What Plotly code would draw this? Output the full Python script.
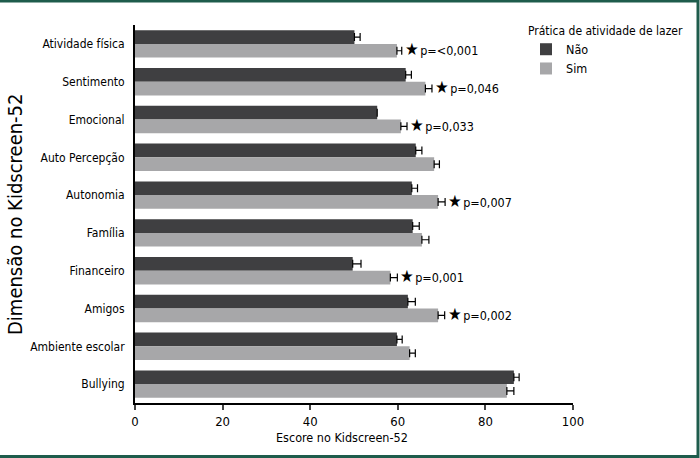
import plotly.graph_objects as go

categories = ["Atividade física", "Sentimento", "Emocional", "Auto Percepção", "Autonomia",
              "Família", "Financeiro", "Amigos", "Ambiente escolar", "Bullying"]
nao_values = [50.1, 61.8, 55.3, 64.1, 63.2, 63.4, 49.7, 62.3, 59.8, 86.5]
nao_errors = [1.3, 1.3, 0.0, 1.4, 1.3, 1.5, 1.9, 1.7, 1.2, 1.2]
sim_values = [59.8, 66.3, 60.7, 68.3, 69.2, 65.5, 58.3, 69.2, 62.7, 84.9]
sim_errors = [1.1, 1.5, 1.4, 1.2, 1.6, 1.6, 1.6, 1.5, 1.3, 1.6]
p_labels = ["p=&lt;0,001", "p=0,046", "p=0,033", None, "p=0,007",
            None, "p=0,001", "p=0,002", None, None]
x_ticks = [0, 20, 40, 60, 80, 100]

FONT = "DejaVu Sans Condensed, Liberation Sans Narrow, sans-serif"
DARK = "#3f3f41"
LIGHT = "#a7a7a9"
GREEN = "#1e5c4c"

ML, MR, MT, MB = 135, 127, 25, 55
PW, PH = 700 - ML - MR, 458 - MT - MB


def px_x(p):
    return (p - ML) / PW


def px_y(p):
    return 1 - (p - MT) / PH


fig = go.Figure()
fig.add_trace(go.Bar(
    name="Não", y=categories, x=nao_values, orientation="h",
    marker=dict(color=DARK, line=dict(width=0)),
    error_x=dict(type="data", array=nao_errors, arrayminus=[0] * len(nao_errors),
                 symmetric=False, color="black", thickness=1.2, width=4),
))
fig.add_trace(go.Bar(
    name="Sim", y=categories, x=sim_values, orientation="h",
    marker=dict(color=LIGHT, line=dict(width=0)),
    error_x=dict(type="data", array=sim_errors, arrayminus=[0] * len(sim_errors),
                 symmetric=False, color="black", thickness=1.2, width=4),
))

annotations = []
for cat, v, e, p in zip(categories, sim_values, sim_errors, p_labels):
    if p is None:
        continue
    annotations.append(dict(
        x=v + e, y=cat, xref="x", yref="y", xanchor="left", yanchor="middle",
        xshift=1, yshift=-5.5, showarrow=False,
        text="<span style='font-size:17px'>★</span><span style='font-size:5px'> </span>" + p,
        font=dict(family=FONT, size=12.5, color="black"),
    ))

annotations.append(dict(
    x=px_x(342), y=px_y(437), xref="paper", yref="paper",
    xanchor="center", yanchor="middle",
    showarrow=False, text="Escore no Kidscreen-52",
    font=dict(family=FONT, size=12.5, color="black"),
))
annotations.append(dict(
    x=px_x(15), y=0.5, xref="paper", yref="paper",
    xanchor="center", yanchor="middle", textangle=-90,
    showarrow=False, text="Dimensão no Kidscreen-52",
    font=dict(family=FONT, size=20, color="black"),
))

border = dict(type="path", xref="paper", yref="paper",
              path=f"M {px_x(-5)},{px_y(1)} L {px_x(698)},{px_y(1)} L {px_x(698)},{px_y(456.5)} L {px_x(-5)},{px_y(456.5)}",
              line=dict(color=GREEN, width=3), layer="above")

fig.update_layout(
    width=700, height=458,
    margin=dict(l=ML, r=MR, t=MT, b=MB, autoexpand=False),
    paper_bgcolor="white", plot_bgcolor="white",
    barmode="group", bargap=0.275, bargroupgap=0,
    font=dict(family=FONT, size=12, color="black"),
    showlegend=True,
    legend=dict(
        title=dict(text="Prática de atividade de lazer", font=dict(family=FONT, size=12)),
        xref="container", yref="container",
        x=526 / 700, y=1 - 19 / 458, xanchor="left", yanchor="top",
        font=dict(family=FONT, size=12.5), itemwidth=30, tracegroupgap=0,
        bgcolor="rgba(0,0,0,0)",
    ),
    annotations=annotations,
    shapes=[border],
)
fig.update_xaxes(
    range=[0, 100], tickvals=x_ticks, ticks="outside", ticklen=5, tickwidth=2,
    showline=True, linecolor="black", linewidth=2, showgrid=False, zeroline=False,
    tickfont=dict(family=FONT, size=13), automargin=False,
)
fig.update_yaxes(
    autorange="reversed", showline=True, linecolor="black", linewidth=2,
    ticks="", showgrid=False, ticklabelstandoff=6, automargin=False,
    tickfont=dict(family=FONT, size=12),
)

fig.write_html("out.html", config={"displayModeBar": False},
               post_script="document.body.style.margin='0';")
